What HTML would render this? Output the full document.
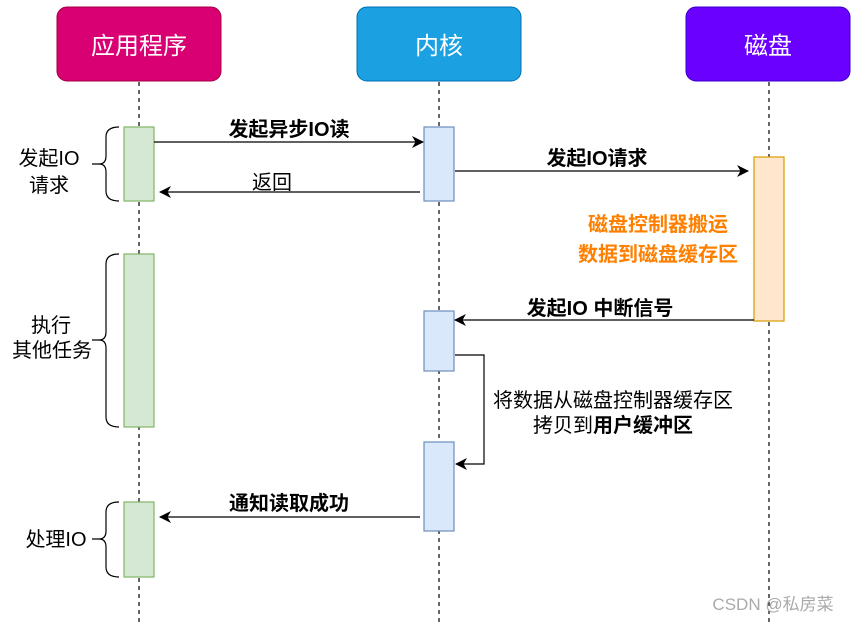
<!DOCTYPE html>
<html><head><meta charset="utf-8"><style>
body{margin:0;background:#fff}
svg{display:block;font-family:"Liberation Sans","Noto Sans CJK SC",sans-serif}
</style></head><body>
<svg width="854" height="622" viewBox="0 0 854 622" xmlns="http://www.w3.org/2000/svg">
<defs><marker id="a" markerWidth="12" markerHeight="12" refX="11" refY="6" orient="auto" markerUnits="userSpaceOnUse"><path d="M0,0 L12,6 L0,12 L3.5,6 Z" fill="#000"/></marker></defs>
<g stroke="#000" stroke-dasharray="4,4" stroke-width="1.2">
<line x1="139" y1="82" x2="139" y2="622"/><line x1="439" y1="82" x2="439" y2="622"/><line x1="769" y1="82" x2="769" y2="622"/></g>
<rect x="57" y="7" width="164" height="74" rx="10" fill="#d80073" stroke="#a50040"/>
<rect x="357" y="7" width="164" height="74" rx="10" fill="#1ba1e2" stroke="#006eaf"/>
<rect x="686" y="7" width="164" height="74" rx="10" fill="#6a00ff" stroke="#3700cc"/>
<g fill="#fff" font-size="24" text-anchor="middle"><text x="139" y="54">应用程序</text><text x="439" y="54">内核</text><text x="768" y="54">磁盘</text></g>
<g fill="#d5e8d4" stroke="#82b366" stroke-width="1.2">
<rect x="124" y="127" width="30" height="74"/><rect x="124" y="254" width="30" height="173"/><rect x="124" y="502" width="30" height="75"/></g>
<g fill="#dae8fc" stroke="#6c8ebf" stroke-width="1.2">
<rect x="424" y="127" width="30" height="74"/><rect x="424" y="311" width="30" height="60"/><rect x="424" y="442" width="30" height="89"/></g>
<rect x="754" y="157" width="30" height="164" fill="#ffe6cc" stroke="#d79b00" stroke-width="1.2"/>
<g stroke="#000" stroke-width="1.2" fill="none" marker-end="url(#a)">
<line x1="154" y1="142" x2="423" y2="142"/>
<line x1="420" y1="192" x2="160" y2="192"/>
<line x1="455" y1="171" x2="748" y2="171"/>
<line x1="754" y1="320" x2="455" y2="320"/>
<polyline points="455,355 484,355 484,464 456,464"/>
<line x1="420" y1="517" x2="160" y2="517"/>
</g>
<g stroke="#000" stroke-width="1.2" fill="none">
<path d="M119,127 Q106,127 106,137 L106,156 Q106,164 99,164 L92,164 M99,164 Q106,164 106,172 L106,191 Q106,201 119,201"/>
<path d="M119,254 Q106,254 106,264 L106,332 Q106,340 99,340 L92,340 M99,340 Q106,340 106,348 L106,417 Q106,427 119,427"/>
<path d="M119,502 Q106,502 106,512 L106,531 Q106,539 99,539 L92,539 M99,539 Q106,539 106,547 L106,567 Q106,577 119,577"/>
</g>
<g font-size="20" fill="#000" text-anchor="middle">
<text x="289" y="136" font-weight="bold">发起异步IO读</text>
<text x="272" y="189">返回</text>
<text x="597" y="165" font-weight="bold">发起IO请求</text>
<text x="600" y="315" font-weight="bold">发起IO 中断信号</text>
<text x="289" y="510" font-weight="bold">通知读取成功</text>
<text x="613" y="407">将数据从磁盘控制器缓存区</text>
<text x="613" y="432">拷贝到<tspan font-weight="bold">用户缓冲区</tspan></text>
<text x="49" y="165">发起IO</text><text x="49" y="192">请求</text>
<text x="51" y="332">执行</text><text x="52" y="357">其他任务</text>
<text x="56" y="546">处理IO</text>
</g>
<g font-size="20" font-weight="bold" fill="#ff8000" text-anchor="middle">
<text x="658" y="231">磁盘控制器搬运</text><text x="658" y="261">数据到磁盘缓存区</text></g>
<text x="773" y="610" font-size="17" fill="#aaa" text-anchor="middle">CSDN @私房菜</text>
</svg>
</body></html>
